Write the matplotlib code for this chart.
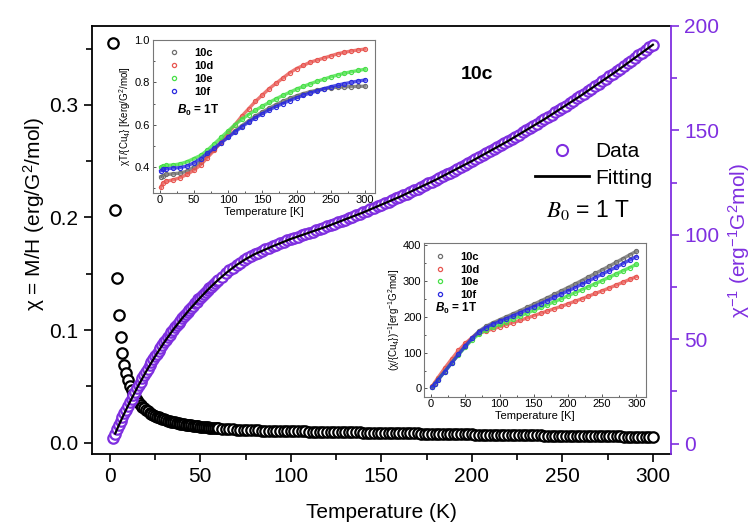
import matplotlib
matplotlib.use("Agg")
import matplotlib.pyplot as plt
from matplotlib.ticker import MultipleLocator, FormatStrFormatter
from matplotlib.lines import Line2D

plt.rcParams['font.family'] = ['Liberation Sans', 'DejaVu Sans']
plt.rcParams['mathtext.fontset'] = 'custom'
plt.rcParams['mathtext.rm'] = 'Liberation Sans'
plt.rcParams['mathtext.it'] = 'Liberation Sans:italic'
plt.rcParams['mathtext.bf'] = 'Liberation Sans:bold'
plt.rcParams['mathtext.bfit'] = 'Liberation Sans:italic:bold'

PURPLE = '#7f2fe0'

# ---------------- main data: compound 10c, B0 = 1 T ----------------
temp = [2, 3, 4, 5, 6, 7, 8, 9,
        10, 11, 12, 13, 14, 15, 16, 17, 18, 19,
        20, 21, 22, 23, 24, 25, 26, 27, 28, 29,
        30, 31, 32, 33, 34, 35, 36, 37, 38, 39,
        40, 41, 42, 43, 44, 45, 46, 47, 48, 49,
        50, 51, 52, 53, 54, 55, 56, 57, 58, 59, 60,
        62, 64, 66, 68, 70, 72, 74, 76, 78, 80,
        82, 84, 86, 88, 90, 92, 94, 96, 98, 100,
        102, 104, 106, 108, 110, 112, 114, 116, 118, 120,
        122, 124, 126, 128, 130, 132, 134, 136, 138, 140,
        142, 144, 146, 148, 150, 152, 154, 156, 158, 160,
        162, 164, 166, 168, 170, 172, 174, 176, 178, 180,
        182, 184, 186, 188, 190, 192, 194, 196, 198, 200,
        202, 204, 206, 208, 210, 212, 214, 216, 218, 220,
        222, 224, 226, 228, 230, 232, 234, 236, 238, 240,
        242, 244, 246, 248, 250, 252, 254, 256, 258, 260,
        262, 264, 266, 268, 270, 272, 274, 276, 278, 280,
        282, 284, 286, 288, 290, 292, 294, 296, 298, 300]

chi = [0.355, 0.207, 0.146, 0.113, 0.0935, 0.0794, 0.0694, 0.0617,
       0.0556, 0.0508, 0.0467, 0.0433, 0.0403, 0.0377, 0.0356, 0.0337, 0.0319, 0.0304,
       0.0291, 0.0279, 0.0267, 0.0257, 0.0248, 0.0240, 0.0232, 0.0225, 0.0218, 0.0212,
       0.0207, 0.0201, 0.0196, 0.0192, 0.0188, 0.0183, 0.0180, 0.0176, 0.0173, 0.0170,
       0.0167, 0.0164, 0.0161, 0.0158, 0.0156, 0.0154, 0.0151, 0.0149, 0.0147, 0.0145,
       0.0143, 0.0141, 0.0139, 0.0138, 0.0136, 0.0134, 0.0133, 0.0131, 0.0130, 0.0129,
       0.0127,
       0.0125, 0.0123, 0.0121, 0.0119, 0.0117, 0.0115, 0.0114, 0.0113, 0.0111, 0.0110,
       0.0109, 0.0108, 0.0108, 0.0107, 0.0106, 0.0105, 0.0104, 0.0104, 0.0103, 0.0102,
       0.0101, 0.0101, 0.0100, 0.0100, 0.0099, 0.0099, 0.0098, 0.0097, 0.0097, 0.0096,
       0.0096, 0.0095, 0.0094, 0.0094, 0.0093, 0.0093, 0.0092, 0.0091, 0.0091, 0.0090,
       0.0090, 0.0089, 0.0089, 0.0088, 0.0087, 0.0087, 0.0086, 0.0086, 0.0085, 0.0085,
       0.0084, 0.0084, 0.0083, 0.0082, 0.0082, 0.0081, 0.0081, 0.0080, 0.0080, 0.0079,
       0.0079, 0.0078, 0.0078, 0.0077, 0.0077, 0.0076, 0.0075, 0.0075, 0.0074, 0.0074,
       0.0073, 0.0073, 0.0072, 0.0072, 0.0071, 0.0071, 0.0070, 0.0070, 0.0069, 0.0069,
       0.0069, 0.0068, 0.0068, 0.0067, 0.0067, 0.0066, 0.0066, 0.0065, 0.0065, 0.0064,
       0.0064, 0.0063, 0.0063, 0.0063, 0.0062, 0.0062, 0.0061, 0.0061, 0.0060, 0.0060,
       0.0060, 0.0059, 0.0059, 0.0058, 0.0058, 0.0058, 0.0057, 0.0057, 0.0056, 0.0056,
       0.0056, 0.0055, 0.0055, 0.0055, 0.0054, 0.0054, 0.0053, 0.0053, 0.0053, 0.0052]

chi_inv = [2.8, 4.8, 6.8, 8.8, 10.7, 12.6, 14.4, 16.2,
           18.0, 19.7, 21.4, 23.1, 24.8, 26.5, 28.1, 29.7, 31.3, 32.9,
           34.4, 35.9, 37.4, 38.9, 40.3, 41.7, 43.1, 44.5, 45.8, 47.1,
           48.4, 49.7, 50.9, 52.1, 53.3, 54.5, 55.6, 56.7, 57.8, 58.9,
           60.0, 61.1, 62.1, 63.1, 64.1, 65.1, 66.1, 67.1, 68.0, 69.0,
           69.9, 70.8, 71.7, 72.6, 73.5, 74.4, 75.2, 76.1, 76.9, 77.7,
           78.5,
           80.0, 81.5, 82.9, 84.2, 85.5, 86.7, 87.8, 88.8, 89.8, 90.7,
           91.5, 92.3, 93.0, 93.8, 94.5, 95.2, 95.9, 96.6, 97.3, 98.0,
           98.6, 99.1, 99.7, 100.3, 100.9, 101.5, 102.1, 102.7, 103.3, 104.0,
           104.6, 105.3, 105.9, 106.6, 107.2, 107.9, 108.6, 109.3, 110.0, 110.7,
           111.4, 112.1, 112.8, 113.6, 114.3, 115.1, 115.8, 116.6, 117.4, 118.1,
           118.9, 119.7, 120.5, 121.3, 122.1, 123.0, 123.8, 124.6, 125.5, 126.3,
           127.2, 128.0, 128.9, 129.8, 130.7, 131.6, 132.5, 133.4, 134.3, 135.3,
           136.2, 137.1, 138.1, 139.0, 140.0, 141.0, 141.9, 142.9, 143.9, 144.9,
           145.9, 146.9, 148.0, 149.0, 150.0, 151.1, 152.1, 153.2, 154.3, 155.3,
           156.4, 157.5, 158.6, 159.7, 160.8, 161.9, 163.1, 164.2, 165.3, 166.5,
           167.6, 168.8, 170.0, 171.2, 172.3, 173.5, 174.7, 175.9, 177.2, 178.4,
           179.6, 180.9, 182.1, 183.3, 184.6, 185.9, 187.1, 188.4, 189.7, 191.0]

fit_temp = [3, 5, 8, 10, 15, 20, 25, 30, 35, 40, 45, 50, 55, 60, 65, 70, 75, 80,
            90, 100, 120, 140, 160, 180, 200, 220, 240, 260, 280, 300]
fit_chi_inv = [4.8, 8.8, 14.4, 18.0, 26.5, 34.4, 41.7, 48.4, 54.5, 60.0, 65.1, 69.9,
               74.4, 78.5, 82.2, 85.5, 88.3, 90.7, 94.5, 98.0, 104.0, 110.7, 118.1,
               126.3, 135.3, 144.9, 155.3, 166.5, 178.4, 191.0]

# ---------------- inset data: 10c, 10d, 10e, 10f ----------------
samples = ['10c', '10d', '10e', '10f']
sample_colors = ['#6e6e6e', '#e85550', '#48e048', '#2b2be0']

temp_inset = [2, 5, 10, 20, 30, 40, 50, 60, 70, 80, 90, 100, 110, 120, 130, 140,
              150, 160, 170, 180, 190, 200, 210, 220, 230, 240, 250, 260, 270, 280,
              290, 300]

chiT_10c = [0.355, 0.360, 0.365, 0.368, 0.372, 0.380, 0.400, 0.425, 0.455, 0.485,
            0.515, 0.545, 0.570, 0.595, 0.618, 0.640, 0.660, 0.678, 0.695, 0.710,
            0.724, 0.736, 0.747, 0.756, 0.763, 0.769, 0.774, 0.777, 0.779, 0.780,
            0.781, 0.782]
chiT_10d = [0.305, 0.325, 0.333, 0.340, 0.350, 0.365, 0.385, 0.410, 0.445, 0.480,
            0.520, 0.560, 0.600, 0.640, 0.675, 0.710, 0.740, 0.770, 0.795, 0.820,
            0.845, 0.865, 0.880, 0.895, 0.905, 0.915, 0.925, 0.935, 0.942, 0.948,
            0.953, 0.957]
chiT_10e = [0.400, 0.405, 0.408, 0.410, 0.415, 0.425, 0.440, 0.455, 0.480, 0.510,
            0.540, 0.570, 0.600, 0.625, 0.648, 0.668, 0.687, 0.705, 0.722, 0.738,
            0.753, 0.768, 0.781, 0.793, 0.805, 0.815, 0.826, 0.835, 0.843, 0.850,
            0.856, 0.862]
chiT_10f = [0.383, 0.390, 0.392, 0.395, 0.398, 0.405, 0.420, 0.440, 0.465, 0.490,
            0.515, 0.540, 0.565, 0.590, 0.612, 0.633, 0.652, 0.670, 0.686, 0.700,
            0.714, 0.727, 0.739, 0.750, 0.760, 0.770, 0.779, 0.787, 0.794, 0.800,
            0.806, 0.811]

inv_10c = [5, 13, 25, 49, 73, 97, 120, 142, 160, 173, 183, 191.5, 200, 208.5, 217,
           226, 235, 244, 253, 262.5, 272, 281.5, 291, 301, 311, 321, 331, 341,
           351.5, 362, 372.5, 383]
inv_10d = [7, 16, 30, 57, 82, 106, 126, 142, 154, 160, 166, 172, 178, 184, 190,
           196.5, 203, 209.5, 216, 222.5, 229, 236, 243, 250, 257.5, 265, 272.5,
           280, 288, 296, 304, 312]
inv_10e = [5, 12, 24, 47, 71, 94, 116, 136, 152, 163, 171, 179, 186.5, 194, 202,
           210, 218, 226, 234, 242, 250, 258.5, 267, 275.5, 284, 292.5, 301, 310,
           319, 328, 337, 346]
inv_10f = [5, 12, 24, 47, 71, 95, 118, 140, 158, 170, 179, 187, 195, 203, 211,
           219.5, 228, 236.5, 245, 254, 263, 272, 281, 290.5, 300, 309.5, 319,
           328.5, 338, 348, 358, 368]

chiT_sets = [chiT_10c, chiT_10d, chiT_10e, chiT_10f]
inv_sets = [inv_10c, inv_10d, inv_10e, inv_10f]

# ---------------- figure ----------------
fig = plt.figure(figsize=(7.54, 5.29), dpi=100)
ax = fig.add_axes([0.1216, 0.1418, 0.7683, 0.8091])
ax2 = ax.twinx()

ax.plot(temp, chi, 'o', ms=7.5, mfc='white', mec='black', mew=1.6, zorder=2)
ax2.plot(temp, chi_inv, 'o', ms=7.5, mfc='white', mec=PURPLE, mew=1.6, zorder=2)
ax2.plot(fit_temp, fit_chi_inv, '-', color='black', lw=1.6, zorder=3)

ax.set_xlim(-10, 310)
ax.set_ylim(-0.01, 0.37)
ax2.set_ylim(-5, 200)

ax.xaxis.set_major_locator(MultipleLocator(50))
ax.xaxis.set_minor_locator(MultipleLocator(25))
ax.yaxis.set_major_locator(MultipleLocator(0.1))
ax.yaxis.set_minor_locator(MultipleLocator(0.05))
ax.yaxis.set_major_formatter(FormatStrFormatter('%.1f'))
ax2.yaxis.set_major_locator(MultipleLocator(50))
ax2.yaxis.set_minor_locator(MultipleLocator(25))

ax.tick_params(which='both', direction='out', width=1.2, labelsize=15,
               top=False, right=False)
ax.tick_params(which='major', length=6)
ax.tick_params(which='minor', length=4)
ax2.tick_params(axis='y', which='both', direction='out', width=1.2,
                colors=PURPLE, labelsize=15)
ax2.tick_params(which='major', length=6)
ax2.tick_params(which='minor', length=4)

for s in ['left', 'bottom', 'top']:
    ax.spines[s].set_linewidth(1.3)
    ax2.spines[s].set_visible(False)
ax.spines['right'].set_visible(False)
ax2.spines['right'].set_color(PURPLE)
ax2.spines['right'].set_linewidth(1.3)

ax.set_xlabel('Temperature (K)', fontsize=15, labelpad=12)
ax.set_ylabel('χ = M/H (erg/G$^2$/mol)', fontsize=15)
ax.yaxis.set_label_coords(-0.077, 0.56)
ax2.set_ylabel('χ$^{-1}$ (erg$^{-1}$G$^2$mol)', fontsize=15, color=PURPLE,
               labelpad=5)

ax2.text(0.665, 0.887, '10c', transform=ax.transAxes, fontsize=14,
         fontweight='bold', ha='center', va='center')

handles = [Line2D([], [], ls='none', marker='o', ms=8, mfc='white', mec=PURPLE,
                  mew=1.5),
           Line2D([], [], color='black', lw=2)]
ax2.legend(handles, ['Data', 'Fitting'], loc='upper left',
           bbox_to_anchor=(0.765, 0.728), frameon=False, fontsize=15,
           handlelength=2.6, handletextpad=0.3, labelspacing=0.35,
           borderaxespad=0, borderpad=0)
ax2.text(0.784, 0.57, r'$B_0$ = 1 T', transform=ax.transAxes, fontsize=16.5,
         math_fontfamily='stix', ha='left', va='center')


def style_inset(a, ylim, ymaj, ymin, ylabel):
    a.set_facecolor('white')
    a.set_xlim(-10, 314)
    a.set_ylim(*ylim)
    a.xaxis.set_major_locator(MultipleLocator(50))
    a.xaxis.set_minor_locator(MultipleLocator(25))
    a.yaxis.set_major_locator(MultipleLocator(ymaj))
    a.yaxis.set_minor_locator(MultipleLocator(ymin))
    a.tick_params(which='both', direction='in', labelsize=8, width=0.7,
                  color='#555555', pad=2)
    a.tick_params(which='major', length=2.5)
    a.tick_params(which='minor', length=1.5)
    for s in a.spines.values():
        s.set_color('#777777')
        s.set_linewidth(0.8)
    a.set_xlabel('Temperature [K]', fontsize=8, labelpad=1)
    a.set_ylabel(ylabel, fontsize=7, labelpad=1)


def inset_legend(a, loc_xy):
    hs = [Line2D([], [], ls='none', marker='o', ms=3, mfc='none', mec=c, mew=0.9)
          for c in sample_colors]
    a.legend(hs, samples, loc='upper left', bbox_to_anchor=loc_xy, frameon=False,
             prop={'weight': 'bold', 'size': 8}, handlelength=1.0,
             handletextpad=1.3, labelspacing=0.25, borderaxespad=0, borderpad=0)


B0_INSET = r'$\mathbfit{B}_\mathbf{0}$ = 1T'

# inset 1: chi*T per Cu4 unit
in1 = fig.add_axes([0.2025, 0.6361, 0.2943, 0.2883])
for vals, c in zip(chiT_sets, sample_colors):
    in1.plot(temp_inset, vals, '-', color=c, lw=2.4, alpha=0.8)
    in1.plot(temp_inset, vals, 'o', ms=3, mfc='none', mec=c, mew=0.8)
style_inset(in1, (0.28, 1.0), 0.2, 0.1, 'χT/{Cu$_4$} [Kerg/G$^2$/mol]')
in1.yaxis.set_major_formatter(FormatStrFormatter('%.1f'))
inset_legend(in1, (0.07, 0.945))
in1.text(0.11, 0.54, B0_INSET, transform=in1.transAxes, fontsize=8.5,
         fontweight='bold', va='center')

# inset 2: inverse susceptibility per Cu4 unit
in2 = fig.add_axes([0.5627, 0.2501, 0.2940, 0.2900])
for vals, c in zip(inv_sets, sample_colors):
    in2.plot(temp_inset, vals, '-', color=c, lw=2.4, alpha=0.8)
    in2.plot(temp_inset, vals, 'o', ms=3, mfc='none', mec=c, mew=0.8)
style_inset(in2, (-23, 405), 100, 50,
            '(χ/{Cu$_4$})$^{-1}$[erg$^{-1}$G$^2$mol]')
inset_legend(in2, (0.045, 0.945))
in2.text(0.05, 0.575, B0_INSET, transform=in2.transAxes, fontsize=8.5,
         fontweight='bold', va='center')

fig.savefig('out.png', dpi=100)
